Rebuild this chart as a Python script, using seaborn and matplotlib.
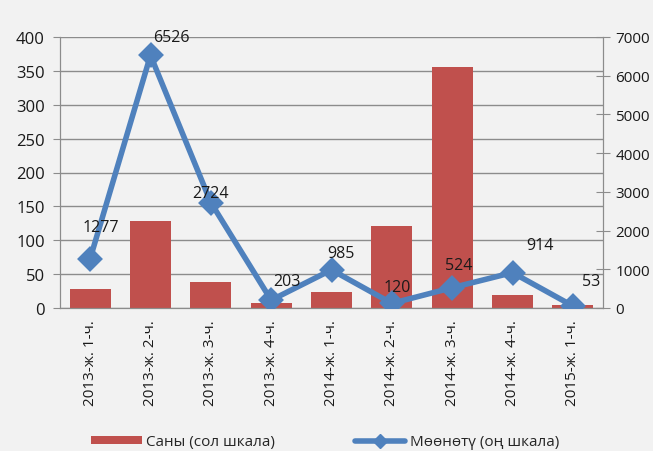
import numpy as np
import pandas as pd
import seaborn as sns
import matplotlib.pyplot as plt
from matplotlib.patches import Patch
from matplotlib.lines import Line2D

categories = ["2013-ж. 1-ч.", "2013-ж. 2-ч.", "2013-ж. 3-ч.", "2013-ж. 4-ч.",
              "2014-ж. 1-ч.", "2014-ж. 2-ч.", "2014-ж. 3-ч.", "2014-ж. 4-ч.",
              "2015-ж. 1-ч."]
count_vals = [28, 128, 38, 7, 24, 121, 356, 19, 4]
term_vals = [1277, 6526, 2724, 203, 985, 120, 524, 914, 53]
# label offsets (points) roughly as placed in the original
label_offsets = [(8, 23), (15, 13), (0, 7), (11, 14), (7, 12), (4, 12), (5, 16), (20, 20), (13, 18)]

BAR_C = "#C0504D"
LINE_C = "#4F81BD"
BG = "#F2F2F2"

sns.set_style("white")
plt.rcParams["font.family"] = ["Open Sans", "DejaVu Sans"]

df = pd.DataFrame({"cat": categories, "count": count_vals, "term": term_vals})

fig = plt.figure(figsize=(6.53, 4.52), dpi=100, facecolor=BG)
ax = fig.add_axes([60 / 653, 1 - 309 / 452, 543 / 653, 271 / 452])
ax.set_facecolor(BG)

sns.barplot(data=df, x="cat", y="count", color=BAR_C, saturation=1, width=0.68,
            linewidth=0, edgecolor="none", ax=ax, zorder=2)
ax.set_ylim(0, 400)
ax.set_yticks(range(0, 401, 50))
ax.set_xlim(-0.5, len(categories) - 0.5)
ax.yaxis.grid(True, color="#8C8C8C", linewidth=1)
ax.set_axisbelow(True)
ax.set_xlabel("")
ax.set_ylabel("")

ax2 = ax.twinx()
sns.pointplot(data=df, x="cat", y="term", color=LINE_C, markers="D", ax=ax2,
              markersize=10.5, linewidth=4, zorder=3)
ax2.set_ylim(0, 7000)
ax2.set_yticks(range(0, 7001, 1000))
ax2.set_ylabel("")
ax2.set_xlim(-0.5, len(categories) - 0.5)

for i, (v, off) in enumerate(zip(term_vals, label_offsets)):
    ax2.annotate(str(v), (i, v), xytext=off, textcoords="offset points",
                 ha="center", va="center", fontsize=11.5, color="#1a1a1a")

for a in (ax, ax2):
    for s in a.spines.values():
        s.set_color("#8C8C8C")
    a.spines["top"].set_visible(False)

ax.set_xticks(np.arange(len(categories)))
ax.set_xticklabels(categories, rotation=90, fontsize=11, color="#1a1a1a")
ax.tick_params(axis="x", length=0, pad=8)
ax.set_xticks(np.arange(-0.5, len(categories)), minor=True)
ax.tick_params(axis="x", which="minor", length=5, color="#8C8C8C", direction="out")
ax.tick_params(axis="y", length=5, color="#8C8C8C", labelsize=12, labelcolor="#1a1a1a", pad=6)
ax2.tick_params(axis="y", length=10, color="#8C8C8C", direction="inout", labelsize=11,
                labelcolor="#1a1a1a", pad=4)

handles = [Patch(facecolor=BAR_C, edgecolor="none"),
           Line2D([0], [0], color=LINE_C, linewidth=4, marker="D", markersize=7)]
fig.legend(handles, ["Саны (сол шкала)", "Мөөнөтү (оң шкала)"], loc="lower center",
           bbox_to_anchor=(0.498, -0.027), ncol=2, frameon=False, fontsize=11,
           handlelength=3.3, handleheight=0.5, columnspacing=5.2, handletextpad=0.3)

fig.savefig("out.png", dpi=100, facecolor=BG)
